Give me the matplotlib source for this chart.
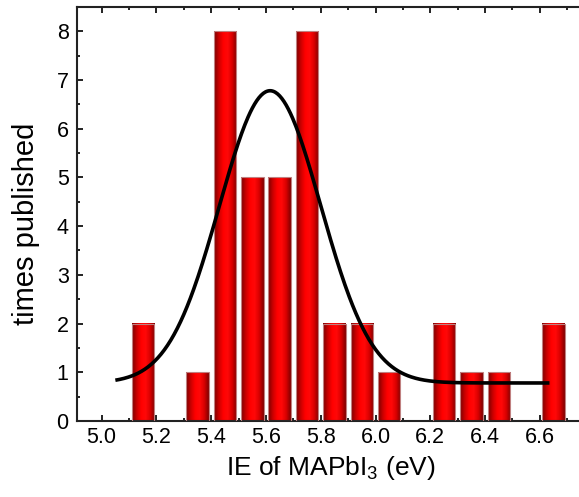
import numpy as np
import matplotlib
matplotlib.use("Agg")
import matplotlib.pyplot as plt
from matplotlib.colors import LinearSegmentedColormap
from matplotlib.patches import Rectangle
from matplotlib.ticker import MultipleLocator, FormatStrFormatter

# Histogram of reported ionization energies
bin_centers = [5.15, 5.35, 5.45, 5.55, 5.65, 5.75, 5.85, 5.95, 6.05, 6.25, 6.35, 6.45, 6.65]
counts = [2, 1, 8, 5, 5, 8, 2, 2, 1, 2, 1, 1, 2]
bar_width = 0.082

# Gaussian fit parameters
fit_y0 = 0.78
fit_xc = 5.615
fit_sigma = 0.185
fit_amp = 6.0
fit_start, fit_end = 5.05, 6.635

plt.rcParams['font.family'] = ['Liberation Sans', 'DejaVu Sans']
plt.rcParams['mathtext.fontset'] = 'custom'
plt.rcParams['mathtext.rm'] = 'Liberation Sans'

fig = plt.figure(figsize=(5.79, 4.97), dpi=100)
ax = fig.add_axes([0.133, 0.153, 0.877, 0.833])

# horizontal shading used for each bar
shade = LinearSegmentedColormap.from_list(
    "barshade", ["#7a0000", "#c80000", "#ff0000", "#ff0808", "#d80000", "#800000"])
grad = np.linspace(0, 1, 64).reshape(1, -1)

for xc, h in zip(bin_centers, counts):
    x0 = xc - bar_width / 2
    ax.imshow(grad, cmap=shade, extent=(x0, x0 + bar_width, 0, h),
              aspect='auto', interpolation='bilinear', zorder=2)
    ax.add_patch(Rectangle((x0, 0), bar_width, h, fill=False,
                           edgecolor="#c08080", linewidth=0.8, zorder=3))

xf = np.linspace(fit_start, fit_end, 400)
yf = fit_y0 + fit_amp * np.exp(-(xf - fit_xc) ** 2 / (2 * fit_sigma ** 2))
ax.plot(xf, yf, color='black', linewidth=2.6, zorder=4, solid_capstyle='butt')

ax.set_xlim(4.91, 6.764)
ax.set_ylim(0, 8.5)

ax.xaxis.set_major_locator(MultipleLocator(0.2))
ax.xaxis.set_minor_locator(MultipleLocator(0.1))
ax.xaxis.set_major_formatter(FormatStrFormatter('%.1f'))
ax.yaxis.set_major_locator(MultipleLocator(1))
ax.yaxis.set_minor_locator(MultipleLocator(0.5))

ax.tick_params(which='both', direction='in', top=True, right=False,
               width=1.4, colors='#222222', labelcolor='black')
ax.tick_params(which='major', length=4.5, labelsize=15.5)
ax.tick_params(axis='x', which='major', pad=4.5)
ax.tick_params(axis='y', which='major', pad=6)
ax.tick_params(which='minor', length=2.5)

for sp in ax.spines.values():
    sp.set_linewidth(1.5)
    sp.set_color('#222222')
ax.spines['right'].set_visible(False)

ax.set_xlabel(r'IE of MAPbI$_3$ (eV)', fontsize=19, labelpad=4)
ax.set_ylabel('times published', fontsize=21)
ax.yaxis.set_label_coords(-0.073, 0.476)

fig.savefig('out.png', dpi=100)
